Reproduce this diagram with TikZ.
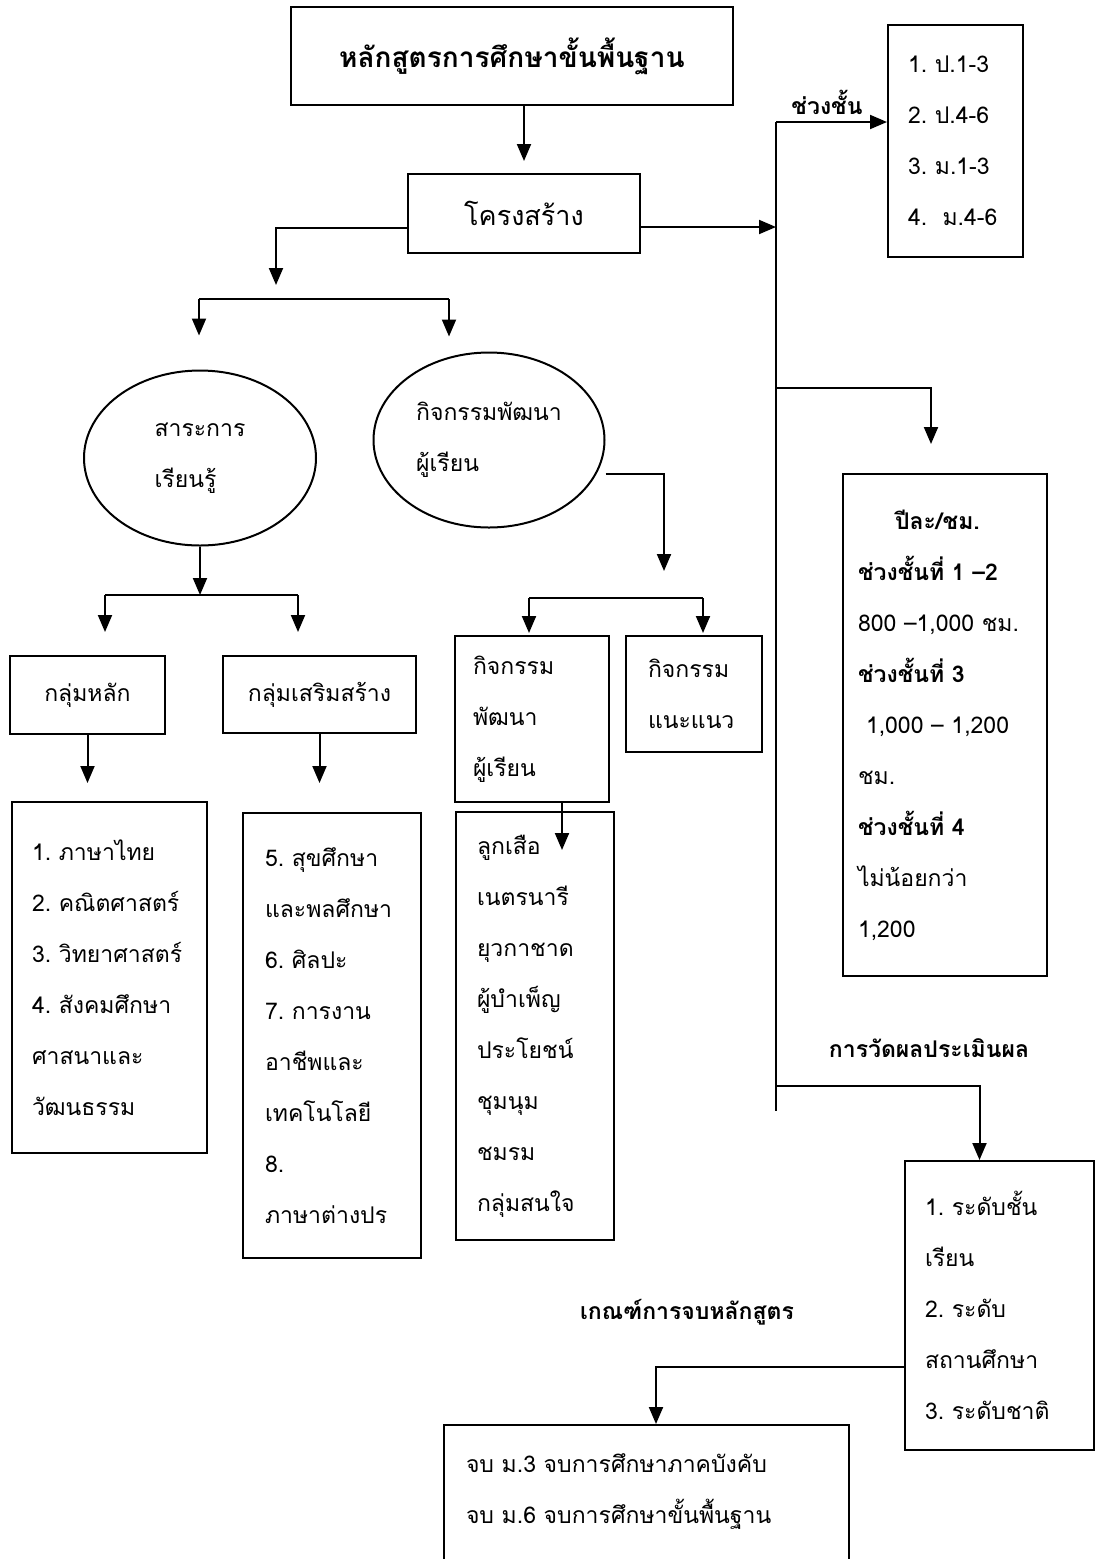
\documentclass[tikz,border=0pt]{standalone}
\usepackage{fontspec}
\setmainfont[Script=Thai]{Loma}
\usetikzlibrary{arrows.meta,shapes.geometric}

\begin{document}
\begin{tikzpicture}[x=1pt, y=-1pt, line width=2pt,
  every node/.style={inner sep=0pt, font=\fontsize{23}{51}\selectfont},
  box/.style={draw},
  listbox/.style={draw, align=left},
  ell/.style={draw, ellipse, align=left},
  lbl/.style={font=\fontsize{23}{51}\selectfont\bfseries},
  arr/.style={-{Triangle[length=17pt,width=14pt]}}]
  \useasboundingbox (0,0) rectangle (1095,1559);

  \node [box, minimum width=442, minimum height=98, font=\fontsize{28}{34}\selectfont\bfseries] (title) at (512,56) {หลักสูตรการศึกษาขั้นพื้นฐาน};
  \node [box, minimum width=232, minimum height=79, font=\fontsize{27}{34}\selectfont] (struct) at (524,213.5) {โครงสร้าง};
  \node [ell, minimum width=232, minimum height=175] (content) at (200,458) {สาระการ\\เรียนรู้};
  \node [ell, minimum width=231, minimum height=175] (activity) at (489,440) {กิจกรรมพัฒนา\\ผู้เรียน};
  \node [box, minimum width=155, minimum height=78] (core) at (87.5,695) {กลุ่มหลัก};
  \node [box, minimum width=193, minimum height=77] (extra) at (319.5,694.5) {กลุ่มเสริมสร้าง};
  \node [listbox, text width=118, inner xsep=18, minimum height=166] (dev) at (532,719) {กิจกรรม\\พัฒนา\\ผู้เรียน};
  \node [listbox, text width=92, inner xsep=22, minimum height=116] (guide) at (694,694) {กิจกรรม\\แนะแนว};
  \node [listbox, text width=155, inner xsep=20, minimum height=351] (list1) at (109.5,977.5)
    {1.~ภาษาไทย\\2.~คณิตศาสตร์\\3.~วิทยาศาสตร์\\4.~สังคมศึกษา\\ศาสนาและ\\วัฒนธรรม};
  \node [listbox, text width=134, inner xsep=22, minimum height=445] (list2) at (332,1035.5)
    {5.~สุขศึกษา\\และพลศึกษา\\6.~ศิลปะ\\7.~การงาน\\อาชีพและ\\เทคโนโลยี\\8.\\ภาษาต่างปร};
  \node [listbox, text width=116, inner xsep=21, minimum height=428] (list3) at (535,1026)
    {ลูกเสือ\\เนตรนารี\\ยุวกาชาด\\ผู้บำเพ็ญ\\ประโยชน์\\ชุมนุม\\ชมรม\\กลุ่มสนใจ};
  \node [listbox, text width=95, inner xsep=20, minimum height=232] (grades) at (955.5,141)
    {1.~ป.1-3\\2.~ป.4-6\\3.~ม.1-3\\4.~~ม.4-6};
  \node [listbox, text width=174, inner xsep=15, minimum height=502] (hours) at (945,725)
    {\hspace*{37pt}\textbf{ปีละ/ชม.}\\\textbf{ช่วงชั้นที่~1~–2}\\800~–1,000~ชม.\\\textbf{ช่วงชั้นที่~3}\\\hspace*{8pt}1,000~–~1,200\\ชม.\\\textbf{ช่วงชั้นที่~4}\\ไม่น้อยกว่า\\1,200};
  \node [listbox, text width=149, inner xsep=20, minimum height=289] (levels) at (999.5,1305.5)
    {1.~ระดับชั้น\\เรียน\\2.~ระดับ\\สถานศึกษา\\3.~ระดับชาติ};
  \node [listbox, text width=361, inner xsep=22, minimum height=178, anchor=north] (finish) at (646.5,1424)
    {จบ~ม.3~จบการศึกษาภาคบังคับ\\จบ~ม.6~จบการศึกษาขั้นพื้นฐาน\\\mbox{}};
  \node [lbl] (gradelbl) at (827,102) {ช่วงชั้น};
  \node [lbl] (evallbl) at (929,1048) {การวัดผลประเมินผล};
  \node [lbl] (finishlbl) at (687,1312) {เกณฑ์การจบหลักสูตร};

  \coordinate (fork1) at (276,299);
  \coordinate (fork1l) at (199,299);
  \coordinate (fork1r) at (449,299);
  \coordinate (fork2l) at (105,595);
  \coordinate (fork2r) at (298,595);
  \coordinate (fork3) at (664,598);
  \coordinate (fork3l) at (529,598);
  \coordinate (fork3r) at (703,598);
  \coordinate (devtip) at (562,850);
  \coordinate (trunktop) at (776,122);
  \coordinate (trunkbot) at (776,1111);
  \coordinate (hoursfork) at (776,388);
  \coordinate (evalfork) at (776,1086);

  \draw [arr, shorten >=12pt] (struct.north |- title.south) -- (struct.north);
  \draw [arr] ([yshift=-14pt]struct.west) -| ([yshift=14pt]fork1);
  \draw (fork1l) -- (fork1r);
  \draw [arr, shorten >=34pt] (fork1l) -- (fork1l |- content.north);
  \draw [arr, shorten >=15pt] (fork1r) -- (fork1r |- activity.north);
  \draw [arr] (content.south) -- (content.south |- fork2l);
  \draw (fork2l) -- (fork2r);
  \draw [arr, shorten >=23pt] (fork2l) -- (fork2l |- core.north);
  \draw [arr, shorten >=23pt] (fork2r) -- (fork2r |- extra.north);
  \draw [arr] ([yshift=-34pt]activity.east) -| ([yshift=27pt]fork3);
  \draw (fork3l) -- (fork3r);
  \draw [arr, shorten >=2pt] (fork3l) -- (fork3l |- dev.north);
  \draw [arr, shorten >=2pt] (fork3r) -- (fork3r |- guide.north);
  \draw [arr, shorten >=18pt] (core.south) -- (core.south |- list1.north);
  \draw [arr, shorten >=29pt] (extra.south) -- (extra.south |- list2.north);
  \draw [arr] (dev.south -| devtip) -- (devtip);
  \draw [arr] ([yshift=-13.5pt]struct.east) -- ([yshift=-13.5pt]struct.east -| trunktop);
  \draw (trunktop) -- (trunkbot);
  \draw [arr] (trunktop) -- (trunktop -| grades.west);
  \draw [arr, shorten >=29pt] (hoursfork) -| ([xshift=-14pt]hours.north);
  \draw [arr] (evalfork) -| ([xshift=-20pt]levels.north);
  \draw [arr] ([yshift=-61.5pt]levels.west) -| ([xshift=9.5pt]finish.north);
\end{tikzpicture}
\end{document}
